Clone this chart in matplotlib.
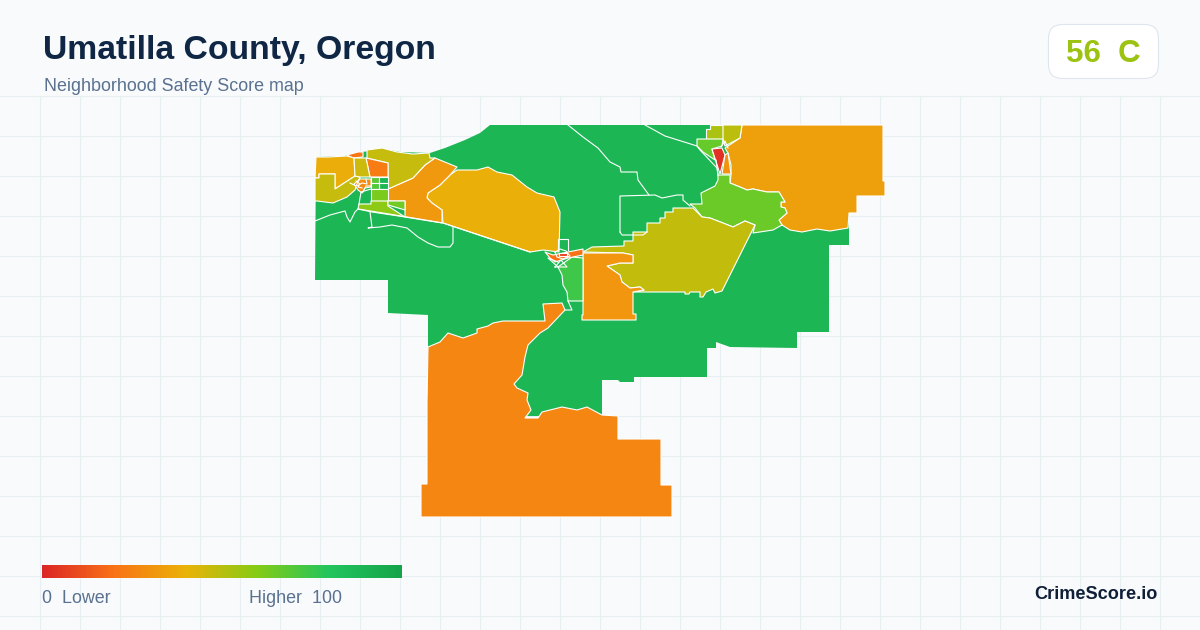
import numpy as np
import matplotlib
matplotlib.use("Agg")
import matplotlib.pyplot as plt
from matplotlib.colors import LinearSegmentedColormap
from matplotlib.patches import FancyBboxPatch, Polygon

plt.rcParams['font.family'] = ['Liberation Sans', 'DejaVu Sans']

BG = '#f8fafc'
GRID = '#e7eff3'
NAVY = '#0f2744'
SLATE = '#5a7190'

# colour ramp of the legend
RAMP_POS = [0.0, 0.2, 0.4, 0.6, 0.8, 1.0]
RAMP_COL = ['#dc2626', '#f97316', '#eab308', '#84cc16', '#22c55e', '#16a34a']

# ── tract outlines (pixel positions), with their scores
COUNTY = [(316, 157), (345, 156), (362, 152), (385, 149), (400, 152), (430, 153), (445, 148), (465, 140),
          (480, 133), (490, 125), (883, 125), (883, 181), (885, 181), (885, 195), (857, 195), (857, 212),
          (849, 212), (849, 245), (829, 245), (829, 332), (797, 332), (797, 348), (730, 347), (716, 342),
          (716, 348), (707, 348), (707, 377), (634, 377), (634, 382), (620, 382), (618, 380), (602, 380),
          (602, 416), (428, 416), (428, 315), (388, 313), (388, 280), (315, 280)]
SOUTH = [(428, 347), (440, 342), (448, 333), (463, 338), (477, 333), (477, 329), (488, 326), (493, 323),
         (503, 321), (545, 321), (543, 304), (562, 303), (565, 310), (548, 328), (540, 333), (528, 345),
         (525, 357), (522, 375), (514, 384), (517, 388), (528, 393), (527, 400), (531, 410), (525, 418),
         (538, 418), (542, 412), (562, 407), (577, 410), (587, 407), (602, 415), (618, 416), (618, 439),
         (661, 439), (661, 485), (672, 485), (672, 517), (642, 517), (491, 517), (421, 517), (421, 484),
         (427, 484), (427, 402)]
NORTHEAST = [(742, 125), (883, 125), (883, 181), (885, 181), (885, 196), (857, 196), (857, 213), (849, 213),
             (848, 228), (830, 231), (817, 229), (802, 232), (790, 230), (782, 225), (779, 220), (787, 213),
             (785, 208), (781, 207), (781, 202), (785, 202), (779, 192), (767, 192), (753, 189), (747, 190),
             (740, 187), (730, 183), (731, 175), (731, 165), (728, 153), (725, 148), (740, 138)]
MILTON_RURAL = [(718, 175), (730, 175), (730, 183), (740, 187), (747, 190), (753, 189), (767, 192), (779, 192),
                (785, 202), (781, 202), (781, 207), (785, 208), (787, 213), (779, 220), (782, 225), (773, 230),
                (753, 233), (755, 225), (745, 221), (733, 227), (723, 223), (710, 218), (702, 217), (695, 208),
                (690, 204), (702, 204), (701, 193), (715, 186), (718, 180)]
ATHENA = [(673, 208), (693, 208), (702, 217), (710, 218), (723, 223), (733, 227), (745, 221), (755, 225),
          (722, 291), (715, 293), (713, 289), (706, 292), (703, 297), (700, 297), (700, 292), (690, 292),
          (689, 294), (685, 294), (685, 292), (633, 292), (644, 290), (640, 287), (630, 288), (622, 282),
          (620, 275), (607, 266), (620, 263), (633, 263), (633, 255), (623, 253), (583, 252), (592, 247),
          (624, 246), (624, 241), (633, 241), (633, 232), (647, 232), (647, 223), (660, 223), (660, 218),
          (665, 218), (665, 212), (673, 212)]
PENDLETON_S = [(583, 253), (623, 253), (633, 255), (633, 263), (620, 263), (607, 266), (620, 275), (622, 282),
               (630, 288), (640, 287), (644, 290), (633, 292), (633, 314), (636, 314), (636, 320), (582, 320),
               (582, 315), (583, 315)]
PENDLETON_W = [(572, 257), (583, 258), (583, 301), (568, 301), (567, 292), (563, 285), (562, 275), (558, 267)]
ECHO_E = [(457, 170), (477, 170), (488, 167), (497, 172), (512, 175), (527, 187), (537, 193), (554, 197),
          (560, 212), (559, 252), (543, 250), (530, 252), (443, 223), (442, 210), (432, 203), (427, 198),
          (428, 193), (440, 185), (450, 175)]
ECHO_W = [(435, 158), (457, 167), (450, 175), (440, 185), (428, 193), (427, 198), (432, 203), (442, 210),
          (442, 223), (405, 217), (405, 201), (388, 201), (388, 189), (413, 178), (425, 165)]
HERMISTON_N = [(367, 150), (382, 148), (397, 152), (413, 154), (429, 153), (430, 158), (435, 158), (425, 165),
               (413, 178), (388, 189), (388, 163), (367, 158)]
HERMISTON_BLOCK = [(366, 158), (388, 163), (388, 177), (370, 177)]
STRIP_TOP = [(347, 155), (358, 152), (363, 152), (363, 157), (353, 158)]
UMATILLA_W = [(316, 157), (328, 157), (347, 156), (354, 158), (355, 176), (335, 189), (335, 174), (319, 174),
              (319, 178), (315, 178)]
UMATILLA_S = [(315, 178), (319, 178), (319, 174), (335, 174), (335, 189), (355, 176), (360, 177), (355, 190),
              (347, 197), (333, 203), (317, 201), (315, 201)]
UMATILLA_M = [(354, 158), (366, 158), (370, 177), (360, 177), (355, 176)]
BLOCK_A = [(371, 177), (379, 177), (379, 183), (371, 183)]
BLOCK_B = [(379, 177), (388, 177), (388, 183), (379, 183)]
BLOCK_C = [(379, 183), (388, 183), (388, 189), (379, 189)]
BLOCK_D = [(371, 183), (379, 183), (379, 189), (371, 189)]
BLOCK_E = [(371, 189), (388, 189), (388, 201), (371, 201)]
STANFIELD = [(359, 204), (371, 204), (371, 201), (388, 201), (388, 206), (405, 217), (372, 212), (358, 209)]
STANFIELD_E = [(388, 201), (405, 201), (405, 210), (388, 205)]
TOWN_W = [(354, 184), (360, 179), (371, 179), (371, 187), (365, 188), (362, 193), (358, 190)]
TOP_L = [(710, 125), (723, 125), (723, 139), (706, 139), (706, 129), (710, 129)]
TOP_R = [(723, 125), (742, 125), (740, 138), (725, 146), (723, 139)]
MF_W = [(697, 139), (723, 139), (722, 146), (712, 149), (715, 160), (703, 152), (697, 146)]
MF_RED = [(712, 149), (722, 148), (725, 155), (720, 174)]
MF_E = [(725, 155), (728, 153), (731, 174), (722, 174)]
PEND_TOWN = [(545, 252), (553, 255), (568, 252), (583, 249), (583, 255), (568, 258), (555, 262), (550, 258)]
PEND_CORE = [(559, 253), (567, 253), (567, 256), (559, 256)]

TRACTS = [COUNTY, SOUTH, NORTHEAST, MILTON_RURAL, ATHENA, PENDLETON_S, PENDLETON_W, ECHO_E, ECHO_W,
          HERMISTON_N, HERMISTON_BLOCK, STRIP_TOP, UMATILLA_W, UMATILLA_S, UMATILLA_M, BLOCK_A, BLOCK_B,
          BLOCK_C, BLOCK_D, BLOCK_E, STANFIELD, STANFIELD_E, TOWN_W, TOP_L, TOP_R, MF_W, MF_RED, MF_E, PEND_TOWN,
          PEND_CORE]
SCORES = [89, 26, 34, 65, 48, 31, 74, 39, 32,
          47, 23, 21, 38, 47, 46, 68, 89,
          89, 70, 62, 58, 64, 28, 52, 49, 66, 3, 30, 20, 6]

# inner boundaries between tracts with the same score
BORDERS = [
    [(568, 125), (583, 137), (598, 148), (610, 162), (620, 167), (621, 172), (637, 172), (638, 180), (649, 195)],
    [(620, 232), (620, 196), (655, 195), (662, 198), (677, 195), (683, 195), (683, 200), (690, 206)],
    [(620, 232), (622, 235), (643, 235), (647, 232)],
    [(645, 125), (665, 136), (697, 146), (700, 150), (717, 168), (718, 175)],
    [(315, 221), (330, 215), (345, 211), (347, 217), (350, 222), (355, 212), (358, 209)],
    [(370, 212), (372, 227), (368, 228), (380, 227), (392, 225), (407, 228), (418, 237), (428, 243), (438, 247),
     (450, 247), (453, 243), (453, 227)],
    [(358, 209), (383, 213), (443, 223), (530, 252)],
    [(359, 204), (361, 192), (371, 189)],
    [(558, 250), (558, 239), (568, 239), (568, 250)],
    [(555, 267), (567, 267), (561, 260), (555, 267)],
    [(558, 267), (548, 258), (558, 262)],
    [(568, 301), (572, 310), (565, 310)],
    [(357, 186), (362, 183), (367, 184), (366, 179)],
    [(350, 183), (356, 186), (360, 178)],
    [(363, 192), (366, 186), (371, 186)],
    [(356, 181), (360, 184), (358, 187), (362, 188)],
    [(716, 160), (718, 175)],
    [(721, 147), (725, 141), (728, 148)],
    [(555, 252), (560, 249), (566, 251), (570, 256), (563, 259), (557, 257), (555, 252)],
]

# legend and badge text
TITLE = "Umatilla County, Oregon"
SUBTITLE = "Neighborhood Safety Score map"
BADGE = "56  C"
LEGEND_LOW = "0  Lower"
LEGEND_HIGH = "Higher  100"
BRAND = "CrimeScore.io"

cmap = LinearSegmentedColormap.from_list('score', list(zip(RAMP_POS, RAMP_COL)))

fig = plt.figure(figsize=(12, 6.3), dpi=100, facecolor=BG)
ax = fig.add_axes([0, 0, 1, 1])
ax.set_xlim(0, 1200)
ax.set_ylim(630, 0)
ax.axis('off')

# background grid
for x in range(40, 1200, 40):
    ax.plot([x, x], [96, 630], color=GRID, lw=0.75, zorder=1)
for y in range(96, 630, 40):
    ax.plot([0, 1200], [y, y], color=GRID, lw=0.75, zorder=1)

# map
ax.add_patch(Polygon(COUNTY, closed=True, facecolor=cmap(SCORES[0] / 100), edgecolor='none', zorder=2))
for tract, score in zip(TRACTS[1:], SCORES[1:]):
    ax.add_patch(Polygon(tract, closed=True, facecolor=cmap(score / 100),
                         edgecolor='white', lw=0.8, joinstyle='round', zorder=3))
for line in BORDERS:
    xs, ys = zip(*line)
    ax.plot(xs, ys, color='white', lw=0.8, zorder=4)

# header
ax.text(43, 59, TITLE, fontsize=24.35, fontweight='bold', color=NAVY, va='baseline')
ax.text(44, 91, SUBTITLE, fontsize=12.9, color=SLATE, va='baseline')

badge = FancyBboxPatch((1048.5, 24.5), 110, 54, boxstyle="round,pad=0,rounding_size=14",
                       facecolor='white', edgecolor='#dfe5ee', lw=0.8, zorder=5)
ax.add_patch(badge)
ax.text(1103, 62, BADGE, fontsize=22.5, fontweight='bold', color='#9cc212', ha='center', va='baseline', zorder=6)

# legend
ramp = np.linspace(0, 1, 360).reshape(1, -1)
ax.imshow(ramp, cmap=cmap, extent=[42, 402, 578, 565], aspect='auto', zorder=5)
ax.set_xlim(0, 1200)
ax.set_ylim(630, 0)
ax.text(42, 603, LEGEND_LOW, fontsize=12.9, color=SLATE, va='baseline')
ax.text(249, 603, LEGEND_HIGH, fontsize=12.85, color=SLATE, va='baseline')
ax.text(1158, 599, BRAND, fontsize=13.05, fontweight='bold', color='#0f1f38', ha='right', va='baseline')

fig.savefig("out.png", dpi=100, facecolor=BG)
